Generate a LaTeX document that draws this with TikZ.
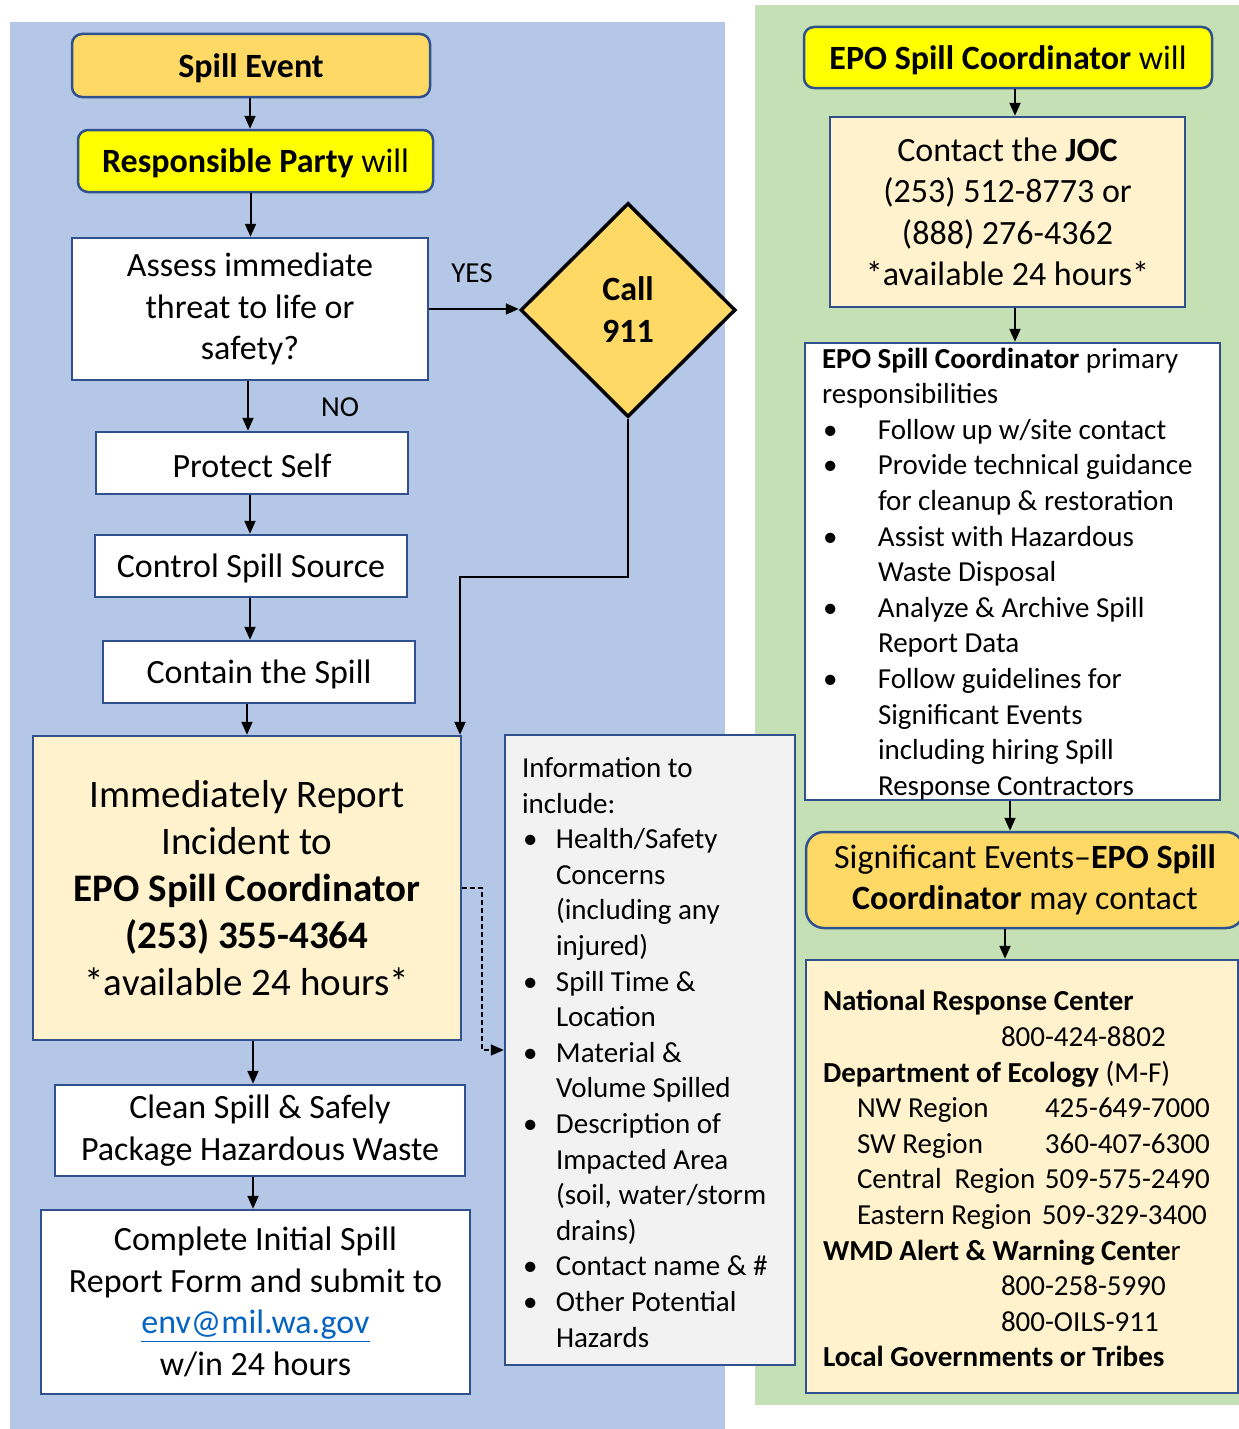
\documentclass[tikz,border=0pt]{standalone}
\usepackage{fontspec}
\setmainfont{Carlito}
\usepackage{xcolor}
\usetikzlibrary{arrows.meta, positioning, calc, shapes.geometric}

\definecolor{panelblue}{HTML}{B4C7E7}
\definecolor{panelgreen}{HTML}{C5E0B4}
\definecolor{gold}{HTML}{FFD966}
\definecolor{lemon}{HTML}{FFFF00}
\definecolor{cream}{HTML}{FFF2CC}
\definecolor{paper}{HTML}{F2F2F2}
\definecolor{edge}{HTML}{2F528F}
\definecolor{link}{HTML}{0563C1}

\newcommand{\bul}[1]{\makebox[#1][l]{\hspace{1pt}\textbullet}}

\begin{document}
\begin{tikzpicture}[x=1pt, y=-1pt,
    box/.style={draw=edge, line width=2.5pt, fill=white, align=center, inner sep=0pt,
        execute at begin node=\rule{0pt}{0.86em}, font=\fontsize{34}{41.5}\selectfont},
    title/.style={box, rounded corners=10pt, font=\bfseries\fontsize{34}{41.5}\selectfont},
    listbox/.style={box, align=flush left, inner xsep=17pt, font=\fontsize{29}{35.6}\selectfont},
    flow/.style={line width=2pt, -{Triangle[length=13pt, width=11pt]}},
    dashflow/.style={line width=1.5pt, dash pattern=on 5pt off 3pt, -{Triangle[length=13pt, width=11pt]}},
    note/.style={inner sep=0pt, font=\fontsize{29}{35}\selectfont}]
    \useasboundingbox (0,0) rectangle (1239,1429);
    \fill[panelblue] (10,22) rectangle (725,1429);
    \fill[panelgreen] (755,5) rectangle (1239,1405);

    % responsible party side
    \node[title, fill=gold, minimum width=358pt, minimum height=63pt] (spill) at (251,65.5) {Spill Event};
    \node[title, fill=lemon, minimum width=355pt, minimum height=62pt] (party) at (255.5,161) {Responsible Party \mdseries will};
    \node[box, minimum width=356pt, minimum height=142pt] (assess) at (250,309) {Assess immediate\\threat to life or\\safety?};
    \node[diamond, draw=black, line width=3.5pt, fill=gold, minimum width=215pt, minimum height=214pt,
        inner sep=0pt, align=center, font=\bfseries\fontsize{34}{42}\selectfont] (call) at (628,310) {Call\\911};
    \node[box, minimum width=312pt, minimum height=62pt] (protect) at (252,463) {Protect Self};
    \node[box, minimum width=312pt, minimum height=62pt] (control) at (251,566) {Control Spill Source};
    \node[box, minimum width=312pt, minimum height=62pt] (contain) at (259,672) {Contain the Spill};
    \node[box, fill=cream, minimum width=428pt, minimum height=304pt, font=\fontsize{39}{47}\selectfont] (report) at (247,888)
        {Immediately Report\\Incident to\\\textbf{EPO Spill Coordinator}\\\textbf{(253) 355-4364}\\{*}available 24 hours*};
    \node[box, minimum width=410pt, minimum height=91pt] (clean) at (260,1130.5) {Clean Spill \& Safely\\Package Hazardous Waste};
    \node[box, minimum width=429pt, minimum height=184pt] (complete) at (255.5,1302)
        {Complete Initial Spill\\Report Form and submit to\\\textcolor{link}{\underline{env@mil.wa.gov}}\\w/in 24 hours};
    \node[listbox, fill=paper, text width=256pt, minimum height=630pt] (info) at (650,1050)
        {Information to\\include:\\
        \bul{34pt}Health/Safety\\\hspace*{34pt}Concerns\\\hspace*{34pt}(including any\\\hspace*{34pt}injured)\\
        \bul{34pt}Spill Time \&\\\hspace*{34pt}Location\\
        \bul{34pt}Material \&\\\hspace*{34pt}Volume Spilled\\
        \bul{34pt}Description of\\\hspace*{34pt}Impacted Area\\\hspace*{34pt}(soil, water/storm\\\hspace*{34pt}drains)\\
        \bul{34pt}Contact name \& \#\\
        \bul{34pt}Other Potential\\\hspace*{34pt}Hazards};
    \node[note] (yes) at (472,273) {YES};
    \node[note] (no) at (340,407) {NO};

    % coordinator side
    \node[title, fill=lemon, minimum width=408pt, minimum height=61pt] (epowill) at (1008,57.5) {EPO Spill Coordinator \mdseries will};
    \node[box, fill=cream, minimum width=355pt, minimum height=190pt] (joc) at (1007.5,212)
        {Contact the \textbf{JOC}\\(253) 512-8773 or\\(888) 276-4362\\{*}available 24 hours*};
    \node[listbox, text width=381pt, minimum height=457pt] (duties) at (1012.5,571.5)
        {\textbf{EPO Spill Coordinator} primary\\responsibilities\\
        \bul{56pt}Follow up w/site contact\\
        \bul{56pt}Provide technical guidance\\\hspace*{56pt}for cleanup \& restoration\\
        \bul{56pt}Assist with Hazardous\\\hspace*{56pt}Waste Disposal\\
        \bul{56pt}Analyze \& Archive Spill\\\hspace*{56pt}Report Data\\
        \bul{56pt}Follow guidelines for\\\hspace*{56pt}Significant Events\\\hspace*{56pt}including hiring Spill\\\hspace*{56pt}Response Contractors};
    \node[box, fill=gold, rounded corners=18pt, minimum width=438pt, minimum height=96pt] (signif) at (1025,880)
        {Significant Events--\textbf{EPO Spill}\\\textbf{Coordinator} may contact};
    \node[listbox, fill=cream, text width=398pt, minimum height=433pt] (contacts) at (1022,1176.5)
        {\textbf{National Response Center}\\
        \hspace*{178pt}800-424-8802\\
        \textbf{Department of Ecology} (M-F)\\
        \hspace*{34pt}\makebox[188pt][l]{NW Region}425-649-7000\\
        \hspace*{34pt}\makebox[188pt][l]{SW Region}360-407-6300\\
        \hspace*{34pt}\makebox[188pt][l]{Central~ Region}509-575-2490\\
        \hspace*{34pt}\makebox[185pt][l]{Eastern Region}509-329-3400\\
        \textbf{WMD Alert \& Warning Cente}r\\
        \hspace*{178pt}800-258-5990\\
        \hspace*{178pt}800-OILS-911\\
        \textbf{Local Governments or Tribes}};

    \coordinate (elbow) at (460,577);
    \coordinate (drop) at (482,1050);

    \draw[flow] ([xshift=-1pt]spill.south) -- ([xshift=-1pt]spill.south |- party.north);
    \draw[flow] ([xshift=-5pt]party.south) -- ([xshift=-5pt]party.south |- assess.north);
    \draw[flow] ([xshift=-2pt]assess.south) -- ([xshift=-2pt]assess.south |- protect.north);
    \draw[flow] (assess.east) -- (assess.east -| call.west);
    \draw[flow] (call.south) |- (elbow) -- (elbow |- report.north);
    \draw[flow] ([xshift=-2pt]protect.south) -- ([xshift=-2pt]protect.south |- control.north);
    \draw[flow] ([xshift=-1pt]control.south) -- ([xshift=-1pt]control.south |- contain.north);
    \draw[flow] ([xshift=-12pt]contain.south) -- ([xshift=-12pt]contain.south |- report.north);
    \draw[flow] ([xshift=6pt]report.south) -- ([xshift=6pt]report.south |- clean.north);
    \draw[flow] ([xshift=-7pt]clean.south) -- ([xshift=-7pt]clean.south |- complete.north);
    \draw[dashflow] (report.east) -| (drop) -- (info.west);

    \draw[flow] ([xshift=7pt]epowill.south) -- ([xshift=7pt]epowill.south |- joc.north);
    \draw[flow] ([xshift=7.5pt]joc.south) -- ([xshift=7.5pt]joc.south |- duties.north);
    \draw[flow] ([xshift=-2.5pt]duties.south) -- ([xshift=-2.5pt]duties.south |- signif.north);
    \draw[flow] ([xshift=-20pt]signif.south) -- ([xshift=-20pt]signif.south |- contacts.north);
\end{tikzpicture}
\end{document}
